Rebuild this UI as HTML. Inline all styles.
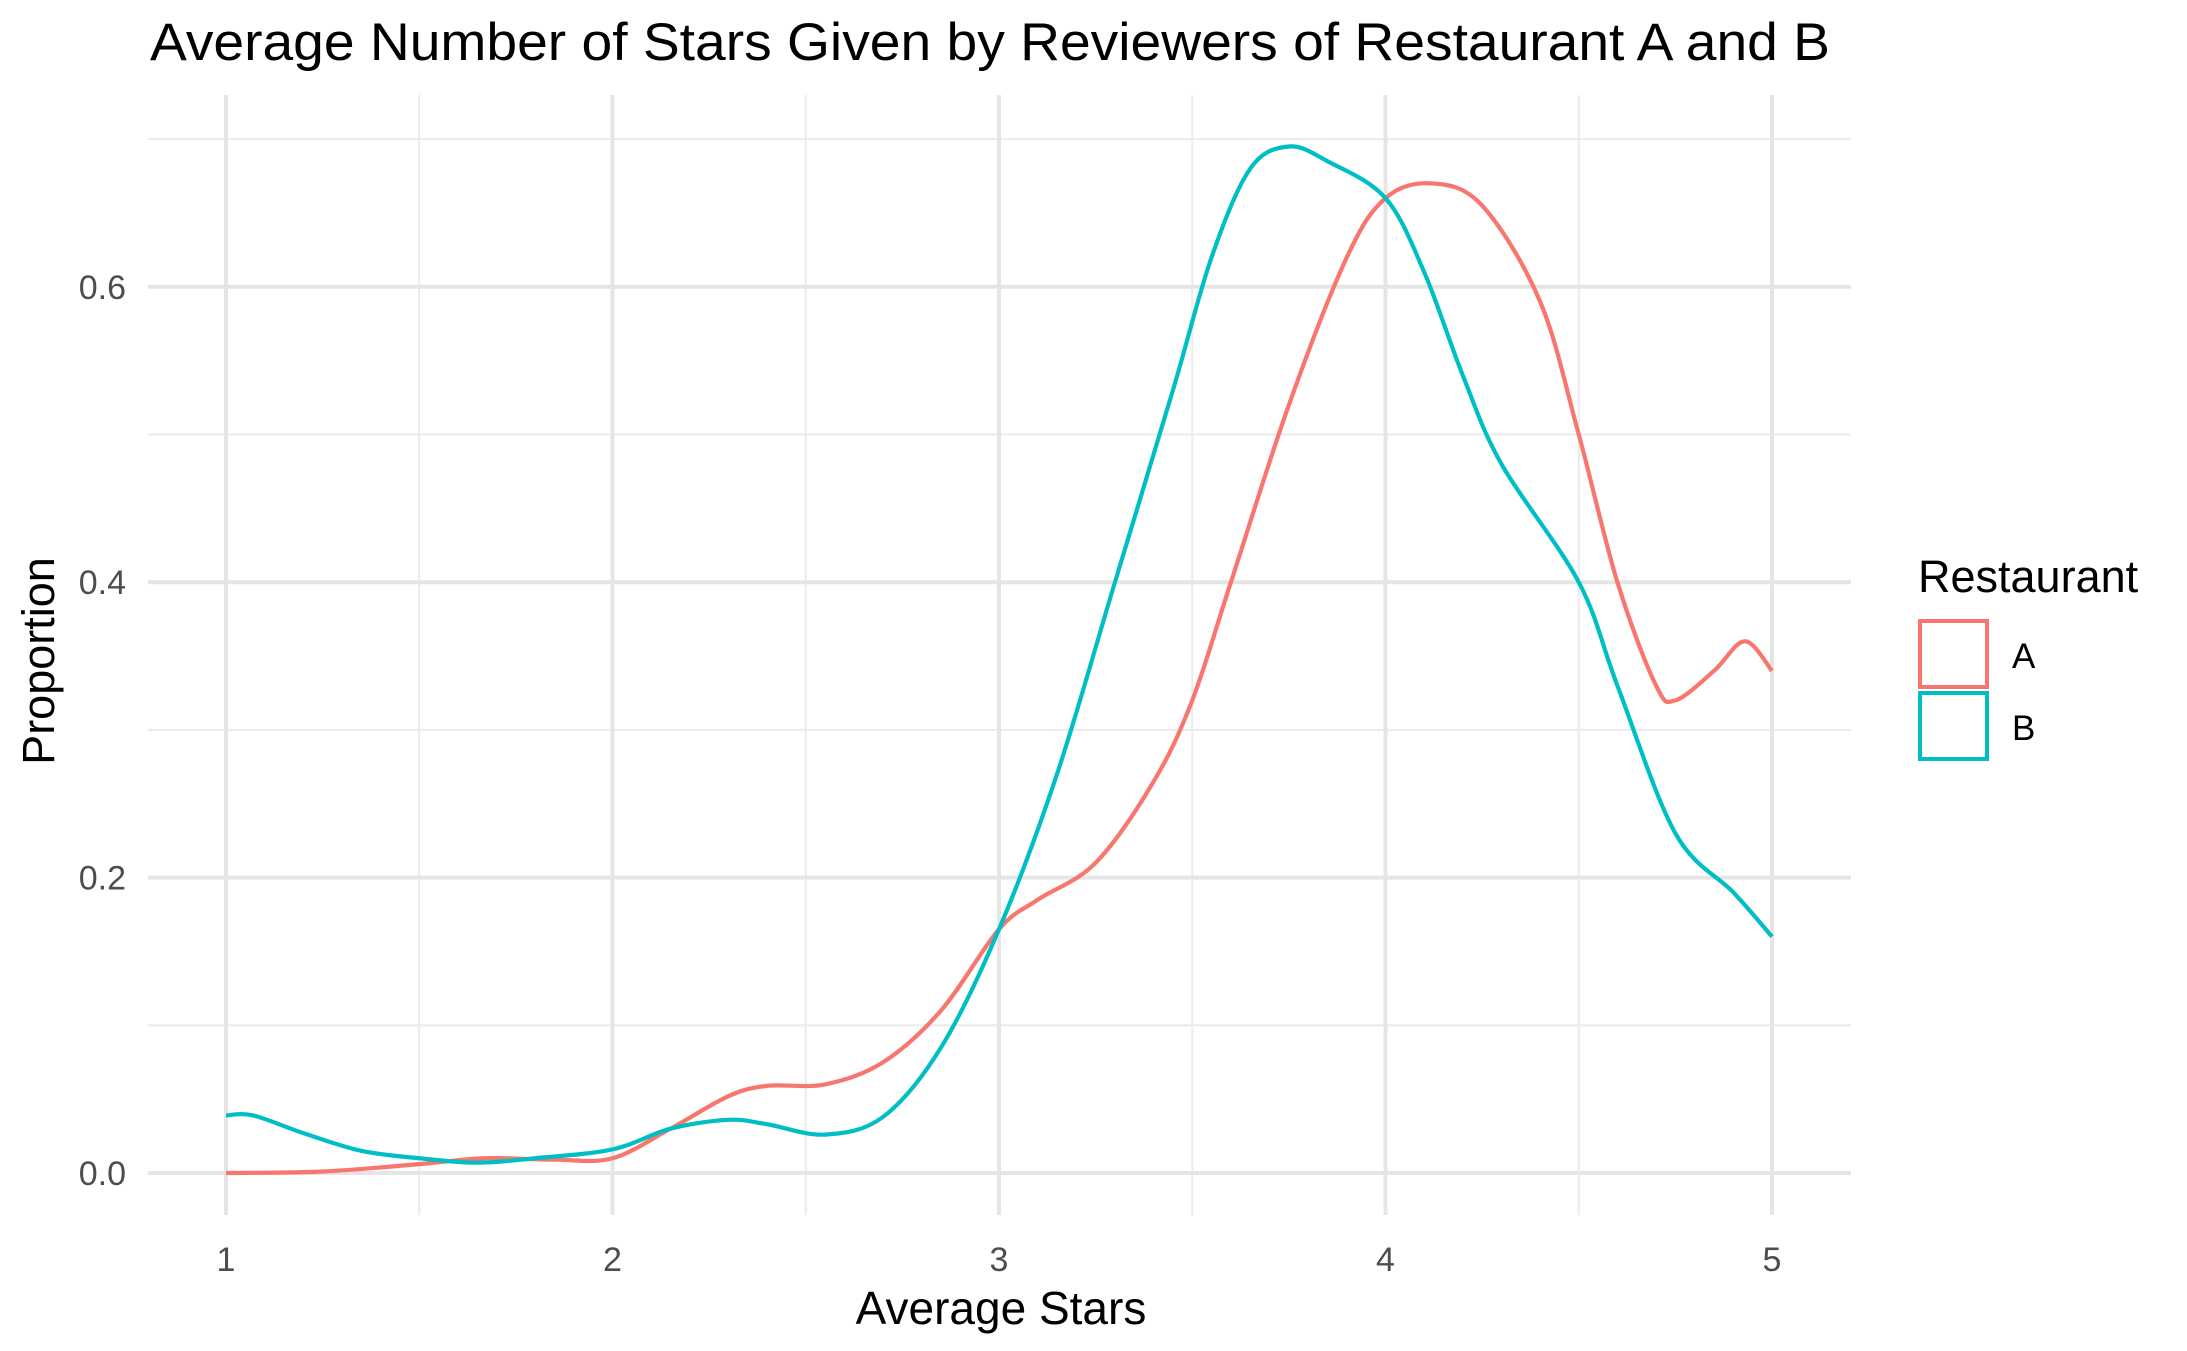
<!DOCTYPE html>
<html><head><meta charset="utf-8"><style>
body{margin:0;background:#fff}
svg{display:block;font-family:"Liberation Sans",Arial,sans-serif}
</style></head><body>
<svg id="chart" width="2187" height="1351" viewBox="0 0 2187 1351">
<text x="150" y="60" font-size="53" textLength="1680" lengthAdjust="spacingAndGlyphs" fill="#000">Average Number of Stars Given by Reviewers of Restaurant A and B</text>
<g id="grid"></g>
<g id="ticks"></g>
<g id="lines"></g>
<text x="1001" y="1324" font-size="46" text-anchor="middle" fill="#000">Average Stars</text>
<text transform="translate(54,661) rotate(-90)" font-size="45" text-anchor="middle" fill="#000">Proportion</text>
<g>
<text x="1918" y="592" font-size="45" fill="#000">Restaurant</text>
<rect x="1920" y="621" width="67" height="66" fill="none" stroke="#F8766D" stroke-width="4"/>
<text x="2012" y="668" font-size="35" fill="#000">A</text>
<rect x="1920" y="693" width="67" height="66" fill="none" stroke="#00BFC4" stroke-width="4"/>
<text x="2012" y="740" font-size="35" fill="#000">B</text>
</g>
</svg>
<script>
const xTicks=[1,2,3,4,5];
const xMinor=[1.5,2.5,3.5,4.5];
const yTicks=[0,0.2,0.4,0.6];
const yTickLabels=["0.0","0.2","0.4","0.6"];
const yMinor=[0.1,0.3,0.5,0.7];
const xA=[1,1.25,1.5,1.67,1.85,2.0,2.15,2.3,2.4,2.55,2.7,2.85,3.0,3.1,3.25,3.4,3.5,3.6,3.75,3.9,4.0,4.12,4.25,4.4,4.5,4.6,4.7,4.75,4.85,4.93,5.0];
const yA=[0,0.001,0.006,0.01,0.009,0.01,0.03,0.052,0.059,0.06,0.075,0.11,0.165,0.185,0.21,0.265,0.32,0.40,0.52,0.62,0.66,0.67,0.655,0.59,0.50,0.40,0.33,0.32,0.34,0.36,0.34];
const xB=[1,1.07,1.2,1.35,1.5,1.65,1.8,2.0,2.15,2.3,2.4,2.55,2.7,2.85,3.0,3.15,3.3,3.45,3.55,3.65,3.75,3.85,4.0,4.1,4.2,4.3,4.5,4.6,4.75,4.9,5.0];
const yB=[0.039,0.039,0.027,0.015,0.01,0.007,0.01,0.016,0.03,0.036,0.033,0.026,0.038,0.085,0.165,0.27,0.40,0.53,0.62,0.68,0.695,0.685,0.66,0.61,0.54,0.48,0.40,0.33,0.23,0.19,0.16];

const NS="http://www.w3.org/2000/svg";
const X=v=>226+(v-1)*386.5;
const Y=v=>1173-v*1477;
const L=148,R=1851,T=95,B=1215;
function mk(tag,at,parent){const e=document.createElementNS(NS,tag);for(const k in at)e.setAttribute(k,at[k]);parent.appendChild(e);return e;}
const grid=document.getElementById('grid'),ticks=document.getElementById('ticks'),lines=document.getElementById('lines');
yMinor.forEach(v=>{const e=mk('line',{x1:L,x2:R,y1:Y(v),y2:Y(v),stroke:'#ebebeb','stroke-width':2},grid);

});
xMinor.forEach(v=>{const e=mk('line',{x1:X(v),x2:X(v),y1:T,y2:B,stroke:'#ebebeb','stroke-width':2},grid);

});
yTicks.forEach((v,i)=>{const e=mk('line',{x1:L,x2:R,y1:Y(v),y2:Y(v),stroke:'#e5e5e5','stroke-width':4},grid);


const t=mk('text',{x:126,y:Y(v)+12,'font-size':34,'text-anchor':'end',fill:'#4d4d4d'},ticks);t.textContent=yTickLabels[i];

});
xTicks.forEach(v=>{const e=mk('line',{x1:X(v),x2:X(v),y1:T,y2:B,stroke:'#e5e5e5','stroke-width':4},grid);


const t=mk('text',{x:X(v),y:1271,'font-size':34,'text-anchor':'middle',fill:'#4d4d4d'},ticks);t.textContent=String(v);

});
function path(xs,ys){const p=xs.map((x,i)=>[X(x),Y(ys[i])]);let d='M'+p[0][0]+','+p[0][1];
for(let i=0;i<p.length-1;i++){const p0=p[Math.max(0,i-1)],p1=p[i],p2=p[i+1],p3=p[Math.min(p.length-1,i+2)];
const c1=[p1[0]+(p2[0]-p0[0])/6,p1[1]+(p2[1]-p0[1])/6],c2=[p2[0]-(p3[0]-p1[0])/6,p2[1]-(p3[1]-p1[1])/6];
d+=' C'+c1+' '+c2+' '+p2;}return d;}
const la=mk('path',{d:path(xA,yA),fill:'none',stroke:'#F8766D','stroke-width':4.2},lines);


const lb=mk('path',{d:path(xB,yB),fill:'none',stroke:'#00BFC4','stroke-width':4.2},lines);


</script>
</body></html>
